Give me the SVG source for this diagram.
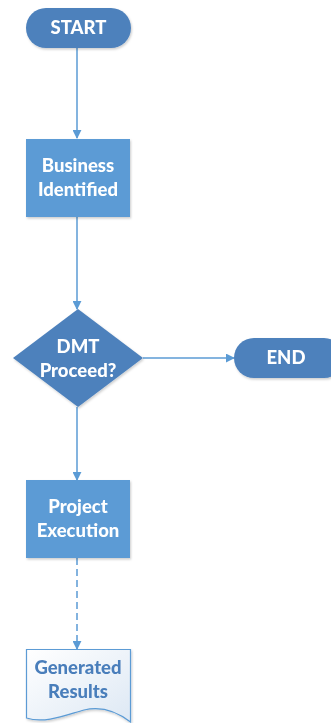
<svg xmlns="http://www.w3.org/2000/svg" width="331" height="723" viewBox="0 0 331 723">
  <defs>
    <style>
      .term { fill: #4d81bc; }
      .proc { fill: #5b9bd5; }
      .lbl { font-family: Lato, "Liberation Sans", sans-serif; font-weight: 900; font-size: 18.5px; fill: #ffffff; text-anchor: middle; }
      .doclbl { fill: #4a7ebb; }
      .conn { stroke: #5b9bd5; stroke-width: 1.5; fill: none; }
      .dash { stroke-dasharray: 7 4; }
    </style>
    <marker id="arrow" viewBox="0 0 10 10" refX="9" refY="5" markerWidth="9" markerHeight="9" markerUnits="userSpaceOnUse" orient="auto">
      <path d="M0,0 L10,5 L0,10 z" fill="#5b9bd5"/>
    </marker>
    <linearGradient id="docFill" x1="0" y1="0" x2="1" y2="1">
      <stop offset="0" stop-color="#ffffff"/>
      <stop offset="1" stop-color="#dde8f4"/>
    </linearGradient>
    <filter id="shadow" x="-10%" y="-10%" width="130%" height="130%">
      <feDropShadow dx="1" dy="1.5" stdDeviation="1" flood-color="#000" flood-opacity="0.2"/>
    </filter>
  </defs>

  <g id="connectors">
    <line class="conn" x1="77" y1="48" x2="77" y2="138" marker-end="url(#arrow)"/>
    <line class="conn" x1="77" y1="217" x2="77" y2="309" marker-end="url(#arrow)"/>
    <line class="conn" x1="143" y1="358" x2="234" y2="358" marker-end="url(#arrow)"/>
    <line class="conn" x1="77" y1="407" x2="77" y2="480" marker-end="url(#arrow)"/>
    <line class="conn dash" x1="77" y1="558" x2="77" y2="649" marker-end="url(#arrow)"/>
  </g>

  <g id="start" filter="url(#shadow)">
    <rect class="term" x="26" y="8" width="105" height="40" rx="20"/>
    <text class="lbl" x="78.5" y="34">START</text>
  </g>

  <g id="business-identified" filter="url(#shadow)">
    <rect class="proc" x="26" y="139" width="104" height="78"/>
    <text class="lbl" x="78" y="172">Business</text>
    <text class="lbl" x="78" y="196">Identified</text>
  </g>

  <g id="dmt-proceed" filter="url(#shadow)">
    <polygon class="term" points="78,309 143,358 78,407 13,358"/>
    <text class="lbl" x="78" y="353">DMT</text>
    <text class="lbl" x="78" y="377">Proceed?</text>
  </g>

  <g id="end" filter="url(#shadow)">
    <rect class="term" x="234" y="338" width="110" height="40" rx="20"/>
    <text class="lbl" x="286" y="364">END</text>
  </g>

  <g id="project-execution" filter="url(#shadow)">
    <rect class="proc" x="26" y="480" width="104" height="78"/>
    <text class="lbl" x="78" y="513">Project</text>
    <text class="lbl" x="78" y="537">Execution</text>
  </g>

  <g id="generated-results" filter="url(#shadow)">
    <path d="M26.5,649.5 H130.5 V722 C115,710 100,706 84,710 C66,715 45,724 26.5,718 Z" fill="url(#docFill)" stroke="#5b9bd5" stroke-width="1.2"/>
    <text class="lbl doclbl" x="78" y="674">Generated</text>
    <text class="lbl doclbl" x="78" y="698">Results</text>
  </g>
</svg>
